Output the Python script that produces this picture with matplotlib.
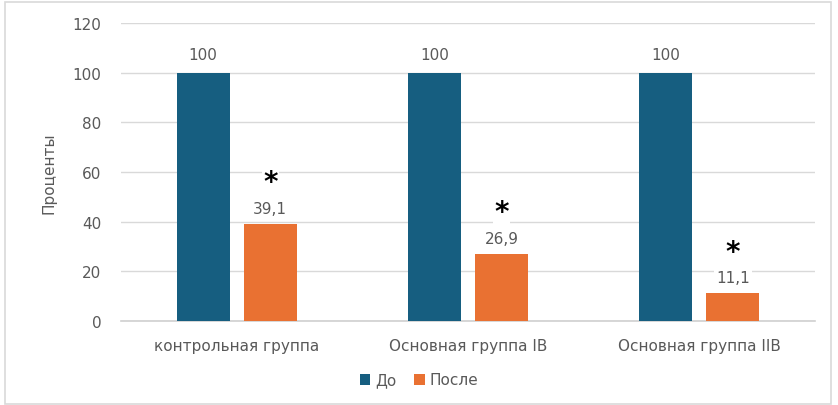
import numpy as np
import matplotlib.pyplot as plt
from matplotlib.patches import Rectangle

plt.rcParams['font.family'] = ['DejaVu Sans']

groups = ['контрольная группа', 'Основная группа IB', 'Основная группа IIB']
do_vals = [100, 100, 100]
posle_vals = [39.1, 26.9, 11.1]
posle_labels = ['39,1', '26,9', '11,1']
do_labels = ['100', '100', '100']

c_do = '#165e80'
c_posle = '#e97132'
grey = '#595959'
fs = 11

fig = plt.figure(figsize=(8.38, 4.06), dpi=100)
ax = fig.add_axes([121 / 838, 1 - 322 / 406, 694 / 838, 298 / 406])

x = np.arange(len(groups))
w = 0.229
off = 0.145
b1 = ax.bar(x - off, do_vals, w, color=c_do, label='До', zorder=3)
b2 = ax.bar(x + off, posle_vals, w, color=c_posle, label='После', zorder=3)

for xi, v, t in zip(x - off, do_vals, do_labels):
    ax.annotate(t, (xi, v), xytext=(0, 8), textcoords='offset points',
                ha='center', va='bottom', fontsize=fs, color=grey)
for xi, v, t in zip(x + off, posle_vals, posle_labels):
    ax.annotate(t, (xi, v), xytext=(0, 6), textcoords='offset points',
                ha='center', va='bottom', fontsize=fs, color=grey,
                bbox=dict(boxstyle='square,pad=0.15', fc='white', ec='none'), zorder=4)
    ax.annotate('*', (xi, v), xytext=(0, 20), textcoords='offset points',
                ha='center', va='bottom', fontsize=20, fontweight='bold', color='black',
                bbox=dict(boxstyle='square,pad=0.05', fc='white', ec='none'), zorder=4)

ax.set_xlim(-0.5, len(groups) - 0.5)
ax.set_ylim(0, 120)
ax.set_yticks(range(0, 121, 20))
ax.set_xticks(x)
ax.set_xticklabels(groups)
ax.tick_params(axis='both', length=0, labelsize=fs, labelcolor=grey)
ax.tick_params(axis='x', pad=12)
ax.tick_params(axis='y', pad=14)
ax.grid(axis='y', color='#d9d9d9', linewidth=1, zorder=0)
for s in ax.spines.values():
    s.set_visible(False)
ax.axhline(0, color='#d0d0d0', linewidth=1.2, zorder=2, clip_on=False)
ax.set_ylabel('Проценты', fontsize=fs, color=grey, labelpad=12)

fig.legend(handles=[b1, b2], loc='center', bbox_to_anchor=(0.5, 1 - 381 / 406),
           ncol=2, frameon=False, fontsize=fs, labelcolor=grey,
           handlelength=0.7, handleheight=0.7, handletextpad=0.3, columnspacing=1.2)

fig.patches.append(Rectangle((5 / 838, 0.002), 826 / 838, 1 - 3 / 406 - 0.002,
                             transform=fig.transFigure, fill=False,
                             ec='#d9d9d9', lw=1.2))

fig.savefig('out.png', dpi=100)
